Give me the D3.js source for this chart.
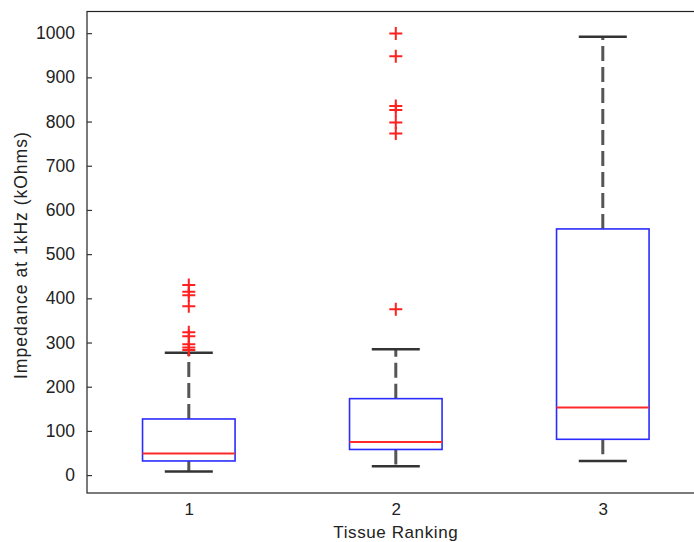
<!DOCTYPE html>
<html><head><meta charset="utf-8">
<script src="https://cdn.jsdelivr.net/npm/d3@7"></script>
<style>body{margin:0;background:#fff}svg{display:block}text{font-family:"Liberation Sans",Arial,sans-serif;fill:#222}</style>
</head><body><svg id="c" width="694" height="542"></svg>
<script>
const categories = ["1", "2", "3"];
const q1 = [32, 58, 81];
const medians = [49, 75, 153];
const q3 = [127, 173, 557];
const lowerWhisker = [8, 20, 32];
const upperWhisker = [277, 285, 992];
const outliers1 = [430, 415, 407, 382, 323, 314, 296, 289, 283];
const outliers2 = [999, 948, 835, 826, 798, 773, 375];
const outliers3 = [];
const yTicks = [0, 100, 200, 300, 400, 500, 600, 700, 800, 900, 1000];

const outliers = [outliers1, outliers2, outliers3];
const svg = d3.select("#c");
const plotLeft = 87, plotTop = 11.5, plotBottom = 493, plotRight = 706;
const x = d3.scalePoint().domain(categories).range([188.8, 602.8]);
const step = x.step();
const y = d3.scaleLinear().domain([-40.5, 1049]).range([plotBottom, plotTop]);
const boxW = step * 0.447, capW = step * 0.116;

// frame
svg.append("rect").attr("x", plotLeft).attr("y", plotTop).attr("width", plotRight - plotLeft).attr("height", plotBottom - plotTop)
  .attr("fill", "#fff").attr("stroke", "#222").attr("stroke-width", 1.2);

// y axis
const ya = d3.axisLeft(y).tickValues(yTicks).tickFormat(d3.format("d")).tickSize(-5).tickPadding(12);
const gy = svg.append("g").attr("transform", `translate(${plotLeft},0)`).call(ya);
gy.select(".domain").remove();
gy.selectAll(".tick line").attr("stroke", "#333").attr("stroke-width", 1.2);
gy.selectAll(".tick text").attr("font-size", 17.5).attr("fill", "#222");

// x axis labels
const xa = d3.axisBottom(x).tickSize(0).tickPadding(10);
const gx = svg.append("g").attr("transform", `translate(0,${plotBottom})`).call(xa);
gx.select(".domain").remove();
gx.selectAll(".tick text").attr("font-size", 17).attr("fill", "#222");

svg.append("text").attr("x", x("2")).attr("y", 538).attr("text-anchor", "middle").attr("font-size", 17)
  .attr("letter-spacing", 0.6).text("Tissue Ranking");
svg.append("text").attr("transform", `translate(27,${(y(1000)+y(0))/2 + 1}) rotate(-90)`).attr("text-anchor", "middle")
  .attr("font-size", 17.5).attr("letter-spacing", 1).text("Impedance at 1kHz (kOhms)");

const g = svg.append("g");
categories.forEach((c, i) => {
  const cx = x(c);
  g.append("line").attr("x1", cx).attr("x2", cx).attr("y1", y(q3[i])).attr("y2", y(upperWhisker[i]))
    .attr("stroke", "#555").attr("stroke-width", 3).attr("stroke-dasharray", "15,6");
  g.append("line").attr("x1", cx).attr("x2", cx).attr("y1", y(q1[i])).attr("y2", y(lowerWhisker[i]))
    .attr("stroke", "#555").attr("stroke-width", 3).attr("stroke-dasharray", "15,6");
  [upperWhisker[i], lowerWhisker[i]].forEach(v => {
    g.append("line").attr("x1", cx - capW).attr("x2", cx + capW).attr("y1", y(v)).attr("y2", y(v))
      .attr("stroke", "#333").attr("stroke-width", 2.5);
  });
  g.append("rect").attr("x", cx - boxW/2).attr("width", boxW).attr("y", y(q3[i])).attr("height", y(q1[i]) - y(q3[i]))
    .attr("fill", "none").attr("stroke", "#2b2bff").attr("stroke-width", 1.6);
  g.append("line").attr("x1", cx - boxW/2).attr("x2", cx + boxW/2).attr("y1", y(medians[i])).attr("y2", y(medians[i]))
    .attr("stroke", "#ff2a2a").attr("stroke-width", 2);
  outliers[i].forEach(v => {
    const py = y(v), s = 6.5;
    g.append("path").attr("d", `M${cx - s},${py}H${cx + s}M${cx},${py - s}V${py + s}`)
      .attr("stroke", "#ff2020").attr("stroke-width", 2).attr("fill", "none");
  });
});
</script></body></html>
